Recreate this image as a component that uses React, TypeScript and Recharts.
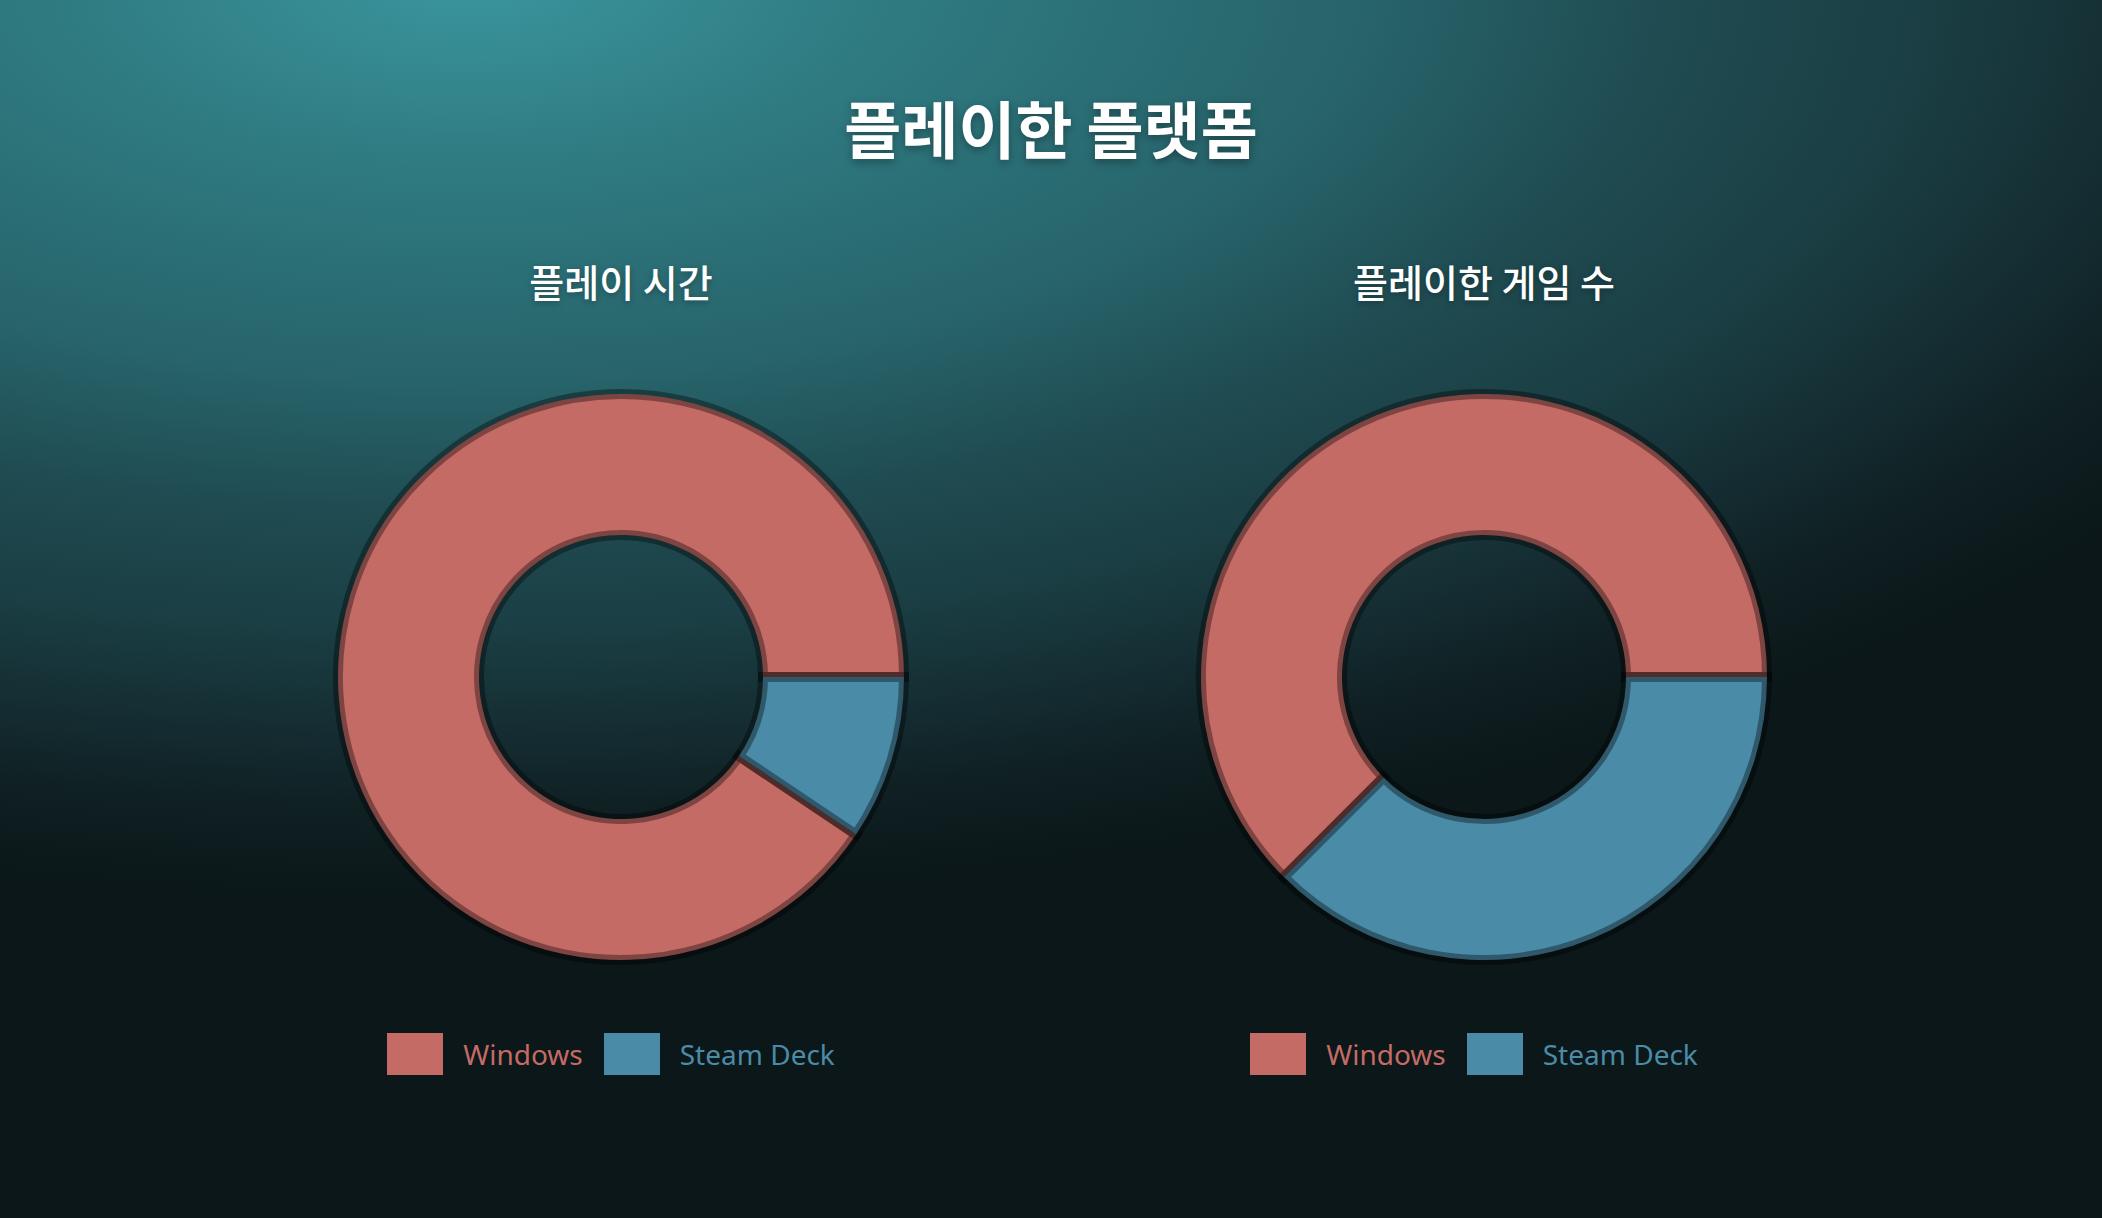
import { PieChart, Pie, Cell, Legend } from "recharts";

const platforms = ["Windows", "Steam Deck"];
const platformColors = ["#c46b66", "#4a8ca8"];
const playtimeShare = [90.6, 9.4];
const gamesPlayedShare = [62.5, 37.5];
const chartTitles = ["플레이 시간", "플레이한 게임 수"];

const W = 2102;
const H = 1218;
const PANEL_W = 860;

const makeRows = (values: number[]) =>
  platforms.map((name, i) => ({ name, value: values[i] }));

const LegendRow = () => (
  <div
    style={{
      display: "flex",
      justifyContent: "center",
      alignItems: "center",
      fontFamily: "'Noto Sans', 'DejaVu Sans', sans-serif",
      fontSize: 28,
      transform: "translateX(-10px)",
    }}
  >
    {platforms.map((name, i) => (
      <div key={name} style={{ display: "flex", alignItems: "center", marginRight: i === 0 ? 21 : 0 }}>
        <span
          style={{
            display: "inline-block",
            width: 56,
            height: 42,
            background: platformColors[i],
            marginRight: 20,
          }}
        />
        <span style={{ color: platformColors[i] }}>{name}</span>
      </div>
    ))}
  </div>
);

const Donut = ({ values, title, left }: { values: number[]; title: string; left: number }) => (
  <div style={{ position: "absolute", left, top: 0, width: PANEL_W, height: H }}>
    <div
      style={{
        position: "absolute",
        top: 253,
        width: PANEL_W,
        textAlign: "center",
        color: "#ffffff",
        fontFamily: "'Noto Sans CJK KR', sans-serif",
        fontSize: 38,
        fontWeight: 500,
        textShadow: "0 2px 6px rgba(0,0,0,0.3)",
      }}
    >
      {title}
    </div>
    <PieChart width={PANEL_W} height={H} margin={{ top: 0, right: 0, bottom: 0, left: 0 }}>
      <Pie
        data={makeRows(values)}
        dataKey="value"
        nameKey="name"
        cx={PANEL_W / 2}
        cy={677}
        innerRadius={142}
        outerRadius={283}
        startAngle={0}
        endAngle={360}
        stroke="rgba(0,0,0,0.36)"
        strokeWidth={10}
        isAnimationActive={false}
      >
        {values.map((_, i) => (
          <Cell key={i} fill={platformColors[i]} />
        ))}
      </Pie>
      <Legend
        content={() => <LegendRow />}
        wrapperStyle={{ position: "absolute", top: 1033, left: 0, width: PANEL_W }}
      />
    </PieChart>
  </div>
);

export default function App() {
  return (
    <div
      style={{
        position: "absolute",
        left: 0,
        top: 0,
        width: W,
        height: H,
        overflow: "hidden",
        background:
          "radial-gradient(ellipse 2150px 960px at 470px -20px, #3b959d 0%, #2f7a81 20%, #27636a 42%, #1f4b51 56%, #1a3e43 68%, #142c31 79%, #0f1f22 87%, #0b1719 96%)",
      }}
    >
      <div
        style={{
          position: "absolute",
          top: 82,
          width: W,
          textAlign: "center",
          color: "#ffffff",
          fontFamily: "'Noto Sans CJK KR', sans-serif",
          fontWeight: 700,
          fontSize: 62,
          textShadow: "0 3px 8px rgba(0,0,0,0.35)",
        }}
      >
        플레이한 플랫폼
      </div>
      <Donut values={playtimeShare} title={chartTitles[0]} left={621 - PANEL_W / 2} />
      <Donut values={gamesPlayedShare} title={chartTitles[1]} left={1484 - PANEL_W / 2} />
    </div>
  );
}
